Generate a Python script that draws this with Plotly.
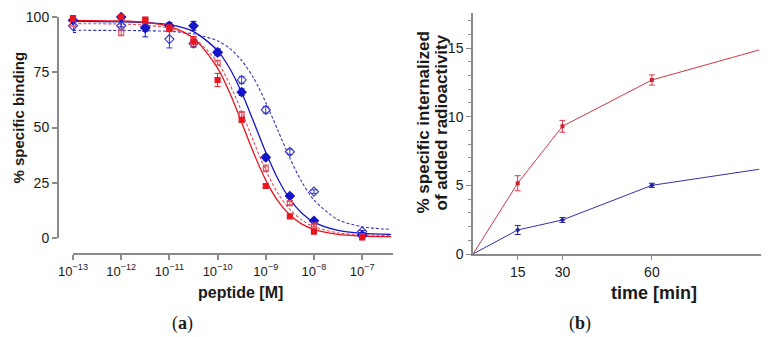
import plotly.graph_objects as go

# ---------------- data: panel (a) ----------------
conc_exp = [-13, -12, -11.5, -11, -10.5, -10, -9.5, -9, -8.5, -8, -7]
bf = [98.5, 100, 95, 96, 96, 84, 66, 36.5, 19, 7.8, 1.2]
bf_err = [5.5, 4.5, 4, 1.5, 2, 1.5, 1.5, 1.2, 1, 0.8, 0.5]
bo = [96, 96, 95.5, 90, 88, 84, 71.5, 58, 39, 21, 2.9]
bo_err = [2, 2, 2, 4, 1.5, 1.5, 1.5, 1.5, 1.2, 0.8, 0.5]
rf = [99.5, 100, 98.5, 95, 88.8, 71.5, 53.5, 23.5, 9.8, 2.9, 0.3]
rf_err = [1.5, 1, 1.5, 1.5, 2.4, 3, 1, 0.8, 0.5, 0.5, 0.3]
ro = [97, 93, 99, 94.5, 89.5, 79.3, 55.7, 31.5, 15.8, 5.6, 0.8]
ro_err = [1.5, 1.5, 1, 1, 1, 1, 1.5, 1.5, 0.8, 0.5, 0.3]

# fitted curves
curve_exp = [-13, -12, -11.5, -11, -10.5, -10, -9.75, -9.5, -9.25, -9, -8.75, -8.5, -8.25, -8, -7.5, -7, -6.4]
rf_fit = [98.5, 98.2, 97.6, 95.8, 90.5, 76.9, 65.8, 52.3, 38.4, 26.2, 16.8, 10.4, 6.3, 3.9, 1.6, 0.85, 0.6]
ro_fit = [97, 96.8, 96.3, 94.9, 90.6, 79.4, 69.7, 57.2, 43.5, 30.6, 20.3, 12.9, 8.1, 5.1, 2.3, 1.43, 1.1]
bf_fit = [98, 97.8, 97.5, 96.5, 93.4, 84.8, 76.8, 65.8, 52.5, 38.8, 26.8, 17.6, 11.2, 7.2, 3.4, 2.1, 1.65]
bo_fit = [94, 93.9, 93.8, 93.5, 92.4, 89.2, 85.8, 80.3, 72.3, 61.4, 48.75, 36.1, 25.3, 17.2, 8.3, 5.1, 3.9]

tick_exps = [-13, -12, -11, -10, -9, -8, -7]
tick_labels = ["10<sup>\u2212%d</sup>" % (-e) for e in tick_exps]
y_ticks_a = [0, 25, 50, 75, 100]

# ---------------- data: panel (b) ----------------
time_min = [0, 15, 30, 60, 96]
red_int = [0, 5.15, 9.3, 12.67, 14.86]
blue_int = [0, 1.75, 2.48, 5.0, 6.17]
time_pts = [15, 30, 60]
red_pts = [5.15, 9.3, 12.67]
red_pts_err = [0.55, 0.43, 0.37]
blue_pts = [1.75, 2.48, 5.0]
blue_pts_err = [0.33, 0.18, 0.15]
x_ticks_b = [15, 30, 60]

BLUE = "#1414c8"
BLUE_O = "#3535c0"
RED = "#e8141e"
RED_O = "#e04a5a"

# page body has an 8px margin: size the figure to fit the window after that offset
OFF = 8
W, H = 770 - OFF, 337 - OFF
def px(x):
    return (x - OFF) / W
def py(y):
    return 1 - (y - OFF) / H

fig = go.Figure()

def xs(exps):
    return [10 ** e for e in exps]

# curves
for fit, col, dash, w in [(bo_fit, BLUE_O, "3px,2px", 1.1), (bf_fit, BLUE, "solid", 1.3),
                          (ro_fit, RED_O, "3px,2px", 1.1), (rf_fit, RED, "solid", 1.3)]:
    fig.add_trace(go.Scatter(x=xs(curve_exp), y=fit, mode="lines",
                             line=dict(color=col, width=w, dash=dash, shape="spline", smoothing=0.8),
                             xaxis="x", yaxis="y", hoverinfo="skip"))

# points
for vals, err, col, sym, size in [(bo, bo_err, BLUE_O, "diamond-open", 7),
                                  (bf, bf_err, BLUE, "diamond", 7),
                                  (ro, ro_err, RED_O, "square-open", 5),
                                  (rf, rf_err, RED, "square", 5)]:
    fig.add_trace(go.Scatter(x=xs(conc_exp), y=vals, mode="markers",
                             marker=dict(color=col, symbol=sym, size=size,
                                         line=dict(color=col, width=1.1)),
                             error_y=dict(type="data", array=err, color=col, thickness=1, width=3),
                             cliponaxis=False, xaxis="x", yaxis="y"))

# panel b
fig.add_trace(go.Scatter(x=time_min, y=red_int, mode="lines", line=dict(color="#d03844", width=1),
                         xaxis="x2", yaxis="y2", cliponaxis=False))
fig.add_trace(go.Scatter(x=time_min, y=blue_int, mode="lines", line=dict(color="#3232a8", width=1),
                         xaxis="x2", yaxis="y2", cliponaxis=False))
fig.add_trace(go.Scatter(x=time_pts, y=red_pts, mode="markers",
                         marker=dict(color="#d0202c", symbol="square", size=4),
                         error_y=dict(type="data", array=red_pts_err, color="#d03844", thickness=1, width=3),
                         xaxis="x2", yaxis="y2", cliponaxis=False))
fig.add_trace(go.Scatter(x=time_pts, y=blue_pts, mode="markers",
                         marker=dict(color="#2020a0", symbol="diamond", size=4),
                         error_y=dict(type="data", array=blue_pts_err, color="#2020a0", thickness=1, width=3),
                         xaxis="x2", yaxis="y2", cliponaxis=False))

AX = "#8a8a8a"
TXT = "#1a1a1a"
FONT = "Liberation Sans, Arial, sans-serif"

fig.update_layout(
    width=W, height=H, margin=dict(l=0, r=0, t=0, b=0, autoexpand=False),
    paper_bgcolor="white", plot_bgcolor="white", showlegend=False,
    font=dict(family=FONT, color=TXT),
    xaxis=dict(type="log", domain=[px(73), px(393)], range=[-13, -6.36],
               anchor="free", position=py(254), automargin=False,
               showline=True, linecolor=AX, linewidth=2, showgrid=False, zeroline=False,
               ticks="outside", ticklen=5, tickwidth=1.5, tickcolor=AX,
               tickvals=xs(tick_exps), ticktext=tick_labels,
               tickfont=dict(family=FONT, size=13, color=TXT)),
    yaxis=dict(domain=[py(238), py(17)], range=[0, 100],
               anchor="free", position=px(58), automargin=False,
               showline=True, linecolor=AX, linewidth=2, showgrid=False, zeroline=False,
               ticks="outside", ticklen=5, tickwidth=1.5, tickcolor=AX,
               tickvals=y_ticks_a, tickfont=dict(family=FONT, size=14, color=TXT)),
    xaxis2=dict(domain=[px(473), px(761)], range=[0, 96.6], anchor="y2", automargin=False,
                showline=True, linecolor=AX, linewidth=1.5, showgrid=False, zeroline=False,
                ticks="outside", ticklen=4, tickwidth=1, tickcolor=AX,
                tickvals=x_ticks_b, tickfont=dict(family=FONT, size=14, color=TXT)),
    yaxis2=dict(domain=[py(254), py(13)], range=[0, 17.55], anchor="x2", automargin=False,
                showline=True, linecolor=AX, linewidth=1.5, showgrid=False, zeroline=False,
                ticks="outside", ticklen=5, tickwidth=1, tickcolor=AX, dtick=5,
                minor=dict(dtick=1, ticks="outside", ticklen=3, tickcolor=AX, tickwidth=1),
                tickfont=dict(family=FONT, size=14, color=TXT)),
)

ann = [
    dict(text="<b>% specific binding</b>", x=px(18), y=py(117.5), textangle=-90, size=15),
    dict(text="<b>peptide [M]</b>", x=px(241), y=py(292), textangle=0, size=16),
    dict(text="<b>% specific internalized</b>", x=px(423), y=py(122.5), textangle=-90, size=17),
    dict(text="<b>of added radioactivity</b>", x=px(441), y=py(122.5), textangle=-90, size=17),
    dict(text="<b>time [min]</b>", x=px(654), y=py(293), textangle=0, size=18),
]
for a in ann:
    fig.add_annotation(text=a["text"], x=a["x"], y=a["y"], xref="paper", yref="paper",
                       textangle=a["textangle"], showarrow=False, xanchor="center", yanchor="middle",
                       font=dict(size=a["size"], color=TXT, family=FONT))
for lab, x in [("(<b>a</b>)", 182), ("(<b>b</b>)", 580)]:
    fig.add_annotation(text=lab, x=px(x), y=py(323), xref="paper", yref="paper", showarrow=False,
                       xanchor="center", yanchor="middle",
                       font=dict(size=18, color=TXT, family="Liberation Serif, DejaVu Serif, serif"))

fig.write_html("out.html")
